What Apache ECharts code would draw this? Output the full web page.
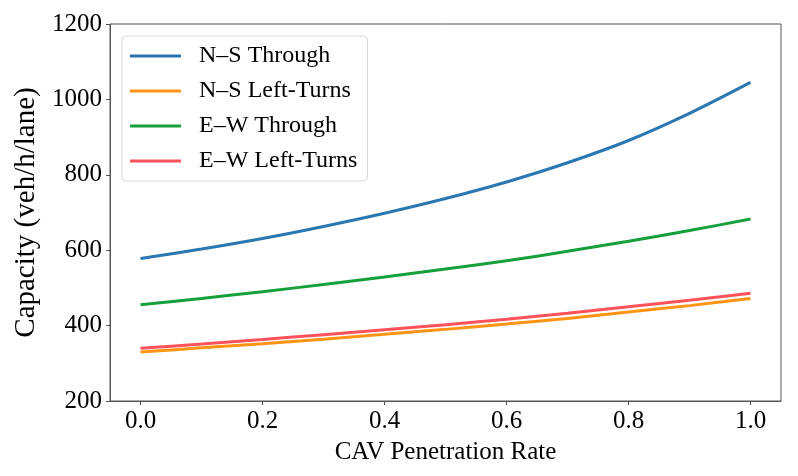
<!DOCTYPE html>
<html>
<head>
<meta charset="utf-8">
<script src="https://cdn.jsdelivr.net/npm/echarts@6/dist/echarts.min.js"></script>
<style>
  html, body { margin: 0; padding: 0; background: #fff; }
  #chart { width: 798px; height: 476px; }
</style>
</head>
<body>
<div id="chart"></div>
<script>
// penetration rates (x) and capacities
var penetration = [0.0, 0.1, 0.2, 0.3, 0.4, 0.5, 0.6, 0.7, 0.8, 0.9, 1.0];
var nsThrough   = [578, 603, 631, 663, 698, 737, 781, 832, 891, 963, 1045];
var nsLeft      = [330, 341, 352, 364, 377, 390, 404, 419, 436, 453, 472];
var ewThrough   = [455, 472, 490, 509, 529, 550, 572, 597, 624, 652, 683];
var ewLeft      = [340, 351, 363, 376, 389, 402, 417, 433, 450, 467, 486];
var xTicks = [0, 0.2, 0.4, 0.6, 0.8, 1.0];

var FONT = "'Liberation Serif', 'Times New Roman', serif";

function pairs(ys) {
    return penetration.map(function (x, i) { return [x, ys[i]]; });
}

function lineSeries(name, ys, color) {
    return {
        name: name,
        type: 'line',
        data: pairs(ys),
        smooth: 0.3,
        showSymbol: false,
        symbol: 'none',
        lineStyle: { width: 3, color: color },
        itemStyle: { color: color }
    };
}

var chart = echarts.init(document.getElementById('chart'), null, { renderer: 'canvas' });

var option = {
    animation: false,
    backgroundColor: '#fff',
    textStyle: { fontFamily: FONT },
    grid: {
        left: 110, right: 17, top: 24, bottom: 75,
        outerBoundsMode: 'none',
        containLabel: false,
        show: true,
        borderColor: '#555',
        borderWidth: 1
    },
    legend: {
        orient: 'vertical',
        left: 122,
        top: 36,
        padding: [8, 10, 8, 8],
        itemGap: 11,
        itemWidth: 51,
        itemHeight: 3,
        icon: 'rect',
        borderColor: '#d8d8d8',
        borderWidth: 1,
        borderRadius: 4,
        backgroundColor: 'rgba(255,255,255,0.85)',
        textStyle: {
            fontFamily: FONT,
            fontSize: 24,
            color: '#000',
            padding: [0, 0, 0, 13]
        },
        data: ['N\u2013S Through', 'N\u2013S Left-Turns', 'E\u2013W Through', 'E\u2013W Left-Turns']
    },
    xAxis: {
        type: 'value',
        min: -0.05,
        max: 1.05,
        name: 'CAV Penetration Rate',
        nameLocation: 'middle',
        nameGap: 39,
        nameTextStyle: { fontFamily: FONT, fontSize: 25, color: '#000' },
        axisLine: { show: true, onZero: false, lineStyle: { color: '#555', width: 1 } },
        axisTick: {
            show: true, length: 4, inside: false,
            customValues: xTicks,
            lineStyle: { color: '#555' }
        },
        axisLabel: {
            fontFamily: FONT, fontSize: 25, color: '#000', margin: 8,
            customValues: xTicks,
            formatter: function (v) { return v.toFixed(1); }
        },
        splitLine: { show: false }
    },
    yAxis: {
        type: 'value',
        min: 200,
        max: 1200,
        interval: 200,
        name: 'Capacity (veh/h/lane)',
        nameLocation: 'middle',
        nameGap: 66,
        nameTextStyle: { fontFamily: FONT, fontSize: 29, color: '#000' },
        axisLine: { show: true, onZero: false, lineStyle: { color: '#555', width: 1 } },
        axisTick: { show: true, length: 4, inside: false, lineStyle: { color: '#555' } },
        axisLabel: {
            fontFamily: FONT, fontSize: 25, color: '#000', margin: 8,
            formatter: function (v) { return String(v); }
        },
        splitLine: { show: false }
    },
    series: [
        lineSeries('N\u2013S Through', nsThrough, '#2a77b2'),
        lineSeries('N\u2013S Left-Turns', nsLeft, '#ff9414'),
        lineSeries('E\u2013W Through', ewThrough, '#16a03c'),
        lineSeries('E\u2013W Left-Turns', ewLeft, '#ff525a')
    ]
};

chart.setOption(option);

window.onresize = function () {
    chart.resize();
};
</script>
</body>
</html>
